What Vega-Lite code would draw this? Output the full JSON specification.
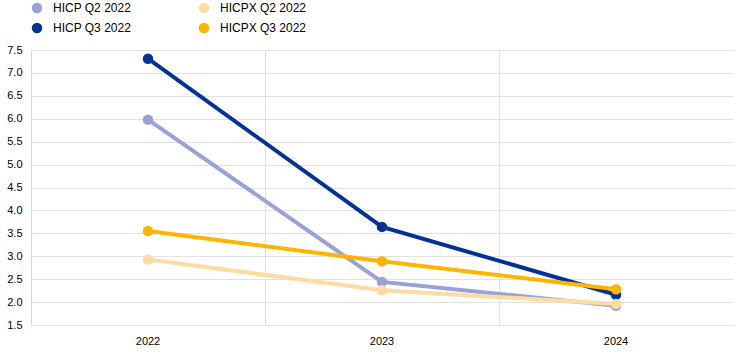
{
  "$schema": "https://vega.github.io/schema/vega-lite/v6.json",
  "width": 702,
  "height": 275,
  "autosize": {"type": "none"},
  "padding": {"left": 31, "top": 50, "right": 11, "bottom": 28},
  "background": "white",
  "config": {
    "font": "Liberation Sans",
    "view": {"stroke": null},
    "axis": {"labelFont": "Liberation Sans", "labelFontSize": 11, "labelColor": "#000000", "gridColor": "#e1e1e1", "gridWidth": 1, "domainColor": "#d9d9d9", "ticks": false, "title": null}
  },
  "data": {
    "values": [
      {"series": "HICP Q2 2022", "year": "2022", "value": 5.98},
      {"series": "HICP Q2 2022", "year": "2023", "value": 2.44},
      {"series": "HICP Q2 2022", "year": "2024", "value": 1.92},
      {"series": "HICP Q3 2022", "year": "2022", "value": 7.31},
      {"series": "HICP Q3 2022", "year": "2023", "value": 3.64},
      {"series": "HICP Q3 2022", "year": "2024", "value": 2.16},
      {"series": "HICPX Q2 2022", "year": "2022", "value": 2.93},
      {"series": "HICPX Q2 2022", "year": "2023", "value": 2.26},
      {"series": "HICPX Q2 2022", "year": "2024", "value": 1.96},
      {"series": "HICPX Q3 2022", "year": "2022", "value": 3.55},
      {"series": "HICPX Q3 2022", "year": "2023", "value": 2.89},
      {"series": "HICPX Q3 2022", "year": "2024", "value": 2.28}
    ]
  },
  "mark": {"type": "line", "strokeWidth": 4, "point": {"filled": true, "size": 110}},
  "encoding": {
    "x": {
      "field": "year", "type": "ordinal",
      "scale": {"type": "band", "paddingInner": 0, "paddingOuter": 0},
      "axis": {"labelAngle": 0, "grid": true, "bandPosition": 0, "domain": false, "labelPadding": 10}
    },
    "y": {
      "field": "value", "type": "quantitative",
      "scale": {"domain": [1.5, 7.5], "nice": false, "zero": false},
      "axis": {"values": [1.5, 2.0, 2.5, 3.0, 3.5, 4.0, 4.5, 5.0, 5.5, 6.0, 6.5, 7.0, 7.5], "format": ".1f", "labelPadding": 9, "domain": true}
    },
    "color": {
      "field": "series", "type": "nominal",
      "sort": ["HICP Q2 2022", "HICP Q3 2022", "HICPX Q2 2022", "HICPX Q3 2022"],
      "scale": {
        "domain": ["HICP Q2 2022", "HICP Q3 2022", "HICPX Q2 2022", "HICPX Q3 2022"],
        "range": ["#98a2d6", "#003299", "#fedba0", "#ffb400"]
      },
      "legend": {
        "title": null, "orient": "none", "legendX": 0, "legendY": -48,
        "columns": 2, "columnPadding": 66, "rowPadding": 8,
        "symbolType": "circle", "symbolSize": 110, "symbolStrokeWidth": 0,
        "labelFontSize": 12, "labelColor": "#000000", "labelOffset": 10,
        "padding": 0
      }
    }
  }
}
